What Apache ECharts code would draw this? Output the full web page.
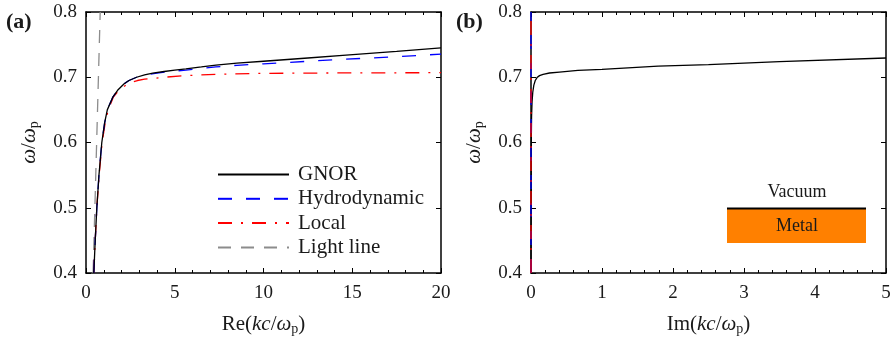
<!DOCTYPE html>
<html><head><meta charset="utf-8">
<script src="https://cdn.jsdelivr.net/npm/echarts@6/dist/echarts.min.js"></script>
<style>html,body{margin:0;padding:0;background:#fff}#c{width:894px;height:342px}</style>
</head><body><div id="c"></div>
<script>
// ---------- data ----------
// Panel (a): Re(kc/wp) vs w/wp
const gnorReK    = [0.44, 0.52, 0.61, 0.73, 0.89, 1.05, 1.20, 1.52, 1.78, 2.15, 2.42, 2.85, 3.3, 3.76, 4.4, 5.0, 5.63, 6.5, 7.32, 8.5, 10.0, 12.5, 14.65, 17.5, 20.0];
const gnorOmegaA = [0.40, 0.45, 0.50, 0.55, 0.60, 0.63, 0.65, 0.67, 0.68, 0.69, 0.695, 0.70, 0.7035, 0.7062, 0.7088, 0.7108, 0.7128, 0.7158, 0.7187, 0.7215, 0.7245, 0.7295, 0.7338, 0.7395, 0.745];
const hydroReK    = [0.44, 0.52, 0.61, 0.73, 0.89, 1.05, 1.20, 1.52, 1.78, 2.15, 2.42, 2.85, 3.3, 3.9, 4.6, 5.63, 6.5, 7.32, 8.5, 10.0, 12.5, 14.65, 17.5, 20.0];
const hydroOmegaA = [0.40, 0.45, 0.50, 0.55, 0.60, 0.63, 0.65, 0.67, 0.68, 0.69, 0.695, 0.70, 0.7035, 0.706, 0.7085, 0.711, 0.7135, 0.7158, 0.7183, 0.7205, 0.7245, 0.7277, 0.7315, 0.7355];
const localReK    = [0.44, 0.52, 0.61, 0.74, 0.91, 1.08, 1.25, 1.55, 1.85, 2.35, 2.9, 3.3, 3.7, 4.4, 5.6, 7.3, 10.0, 14.0, 20.0];
const localOmegaA = [0.40, 0.45, 0.50, 0.55, 0.60, 0.63, 0.65, 0.67, 0.68, 0.69, 0.695, 0.697, 0.698, 0.700, 0.7025, 0.7045, 0.706, 0.7066, 0.707];
const lightReK    = [0.40, 0.80];
const lightOmegaA = [0.40, 0.80];
// Panel (b): Im(kc/wp) vs w/wp
const gnorImK     = [0.0, 0.004, 0.008, 0.015, 0.025, 0.04, 0.06, 0.085, 0.12, 0.17, 0.26, 0.4, 0.66, 1.0, 1.79, 2.5, 3.5, 5.0];
const gnorOmegaB  = [0.40, 0.60, 0.640, 0.662, 0.677, 0.688, 0.695, 0.6995, 0.7025, 0.7045, 0.7065, 0.708, 0.7105, 0.712, 0.717, 0.7195, 0.724, 0.7295];
const hydroImK    = [0.0, 0.0];
const hydroOmegaB = [0.40, 0.80];
const localImK    = [0.0, 0.0];
const localOmegaB = [0.40, 0.80];
// ticks
const yTicks = [0.4, 0.5, 0.6, 0.7, 0.8];
const xTicksA = [0, 5, 10, 15, 20];
const xTicksB = [0, 1, 2, 3, 4, 5];
const seriesNames = ['GNOR', 'Hydrodynamic', 'Local', 'Light line'];

const zip = (xs, ys) => xs.map((x, i) => [x, ys[i]]);
const F = "'Liberation Serif', 'DejaVu Serif', serif";
const TC = '#1a1a1a';

const rich = {
  r: {fontSize: 21, fontFamily: F, color: TC, lineHeight: 26},
  i: {fontSize: 21, fontFamily: F, fontStyle: 'italic', color: TC, lineHeight: 26},
  s: {fontSize: 14, fontFamily: F, color: TC, lineHeight: 14, padding: [11, 0, 0, 0]}
};

function xAxes(g, ticks, name) {
  const min = ticks[0], max = ticks[ticks.length - 1], interval = ticks[1] - ticks[0];
  const base = {
    type: 'value', gridIndex: g, min, max, interval,
    axisLine: {onZero: false, lineStyle: {color: '#000', width: 1.5}},
    axisTick: {inside: true, length: 5, lineStyle: {color: '#000', width: 1}},
    minorTick: {show: true, splitNumber: 5, length: 3, lineStyle: {color: '#000', width: 1}},
    splitLine: {show: false}, minorSplitLine: {show: false}
  };
  return [
    Object.assign({}, base, {
      position: 'bottom',
      axisLabel: {fontSize: 19, fontFamily: F, color: TC, margin: 11},
      name, nameLocation: 'middle', nameGap: 38,
      nameTextStyle: {rich}
    }),
    Object.assign({}, base, {position: 'top', axisLabel: {show: false}})
  ];
}
function yAxes(g) {
  const base = {
    type: 'value', gridIndex: g, min: yTicks[0], max: yTicks[yTicks.length - 1], interval: 0.1,
    axisLine: {onZero: false, lineStyle: {color: '#000', width: 1.5}},
    axisTick: {inside: true, length: 5, lineStyle: {color: '#000', width: 1}},
    splitLine: {show: false}
  };
  return [
    Object.assign({}, base, {
      position: 'left',
      axisLabel: {fontSize: 19, fontFamily: F, color: TC, margin: 9, formatter: v => v.toFixed(1)},
      name: '{i|ω}{r|/}{i|ω}{s|p}', nameLocation: 'middle', nameGap: 44, nameRotate: 90,
      nameTextStyle: {rich}
    }),
    Object.assign({}, base, {position: 'right', axisLabel: {show: false}})
  ];
}

const xa = xAxes(0, xTicksA, '{r|Re(}{i|kc}{r|/}{i|ω}{s|p}{r|)}');
const xb = xAxes(1, xTicksB, '{r|Im(}{i|kc}{r|/}{i|ω}{s|p}{r|)}');
const ya = yAxes(0), yb = yAxes(1);

const sty = {
  GNOR: {color: '#000000', width: 1.3, type: 'solid'},
  Hydrodynamic: {color: '#0000ff', width: 1.3, type: [14, 14]},
  Local: {color: '#ff0000', width: 1.3, type: [14, 9, 2, 9]},
  'Light line': {color: '#8c8c8c', width: 1.3, type: [13, 10]}
};
function line(name, data, xi, yi) {
  return {
    name, type: 'line', data, xAxisIndex: xi, yAxisIndex: yi,
    symbol: 'none', showSymbol: false, smooth: false, clip: true,
    lineStyle: sty[name], itemStyle: {color: sty[name].color}, z: 3
  };
}

const option = {
  animation: false,
  backgroundColor: '#fff',
  grid: [
    {left: 86, top: 12, width: 355, height: 261},
    {left: 531, top: 12, width: 355, height: 261}
  ],
  xAxis: [xa[0], xa[1], xb[0], xb[1]],
  yAxis: [ya[0], ya[1], yb[0], yb[1]],
  legend: {
    data: seriesNames,
    orient: 'vertical', left: 212, top: 159,
    itemWidth: 71, itemHeight: 14, itemGap: 3.3,
    itemStyle: {opacity: 0},
    textStyle: {fontSize: 21, fontFamily: F, color: TC, padding: [0, 0, 0, 4]},
    selectedMode: false
  },
  series: [
    line('Light line', zip(lightReK, lightOmegaA), 0, 0),
    line('Local', zip(localReK, localOmegaA), 0, 0),
    line('Hydrodynamic', zip(hydroReK, hydroOmegaA), 0, 0),
    line('GNOR', zip(gnorReK, gnorOmegaA), 0, 0),
    line('GNOR', zip(gnorImK, gnorOmegaB), 2, 2),
    line('Hydrodynamic', zip(hydroImK, hydroOmegaB), 2, 2),
    line('Local', zip(localImK, localOmegaB), 2, 2)
  ],
  graphic: [
    {type: 'text', left: 6, top: 11, style: {text: '(a)', fontSize: 22, fontWeight: 'bold', fontFamily: F, fill: TC}},
    {type: 'text', left: 456, top: 11, style: {text: '(b)', fontSize: 22, fontWeight: 'bold', fontFamily: F, fill: TC}},
    {type: 'rect', shape: {x: 727, y: 208, width: 139, height: 35}, style: {fill: '#ff8000'}},
    {type: 'line', shape: {x1: 727, y1: 208.5, x2: 866, y2: 208.5}, style: {stroke: '#000', lineWidth: 2}},
    {type: 'text', x: 797, y: 192, style: {text: 'Vacuum', fontSize: 18, fontFamily: F, fill: TC, align: 'center', verticalAlign: 'middle'}},
    {type: 'text', x: 797, y: 226, style: {text: 'Metal', fontSize: 18, fontFamily: F, fill: TC, align: 'center', verticalAlign: 'middle'}}
  ]
};
const chart = echarts.init(document.getElementById('c'));
chart.setOption(option);
</script></body></html>
